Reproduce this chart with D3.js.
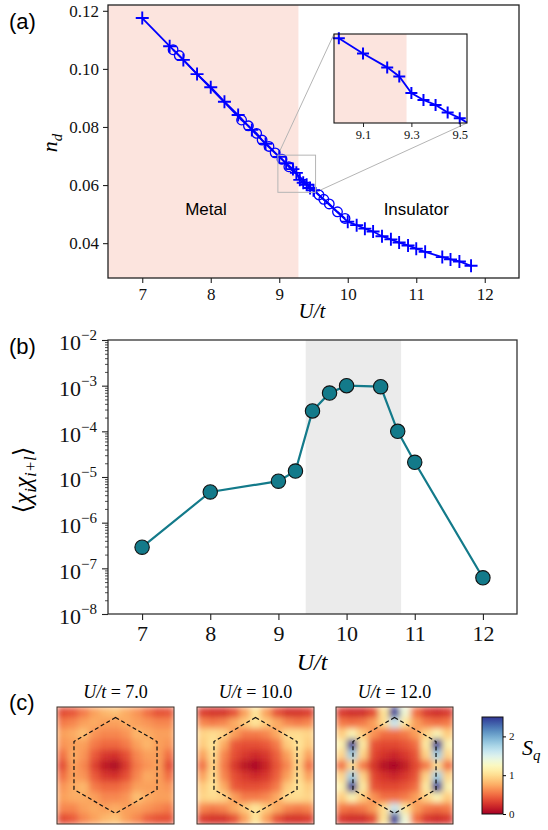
<!DOCTYPE html>
<html>
<head>
<meta charset="utf-8">
<script src="https://cdn.jsdelivr.net/npm/d3@7"></script>
<style>
  body { margin: 0; background: #fff; }
  svg { display: block; }
  .serif { font-family: "Liberation Serif", "DejaVu Serif", serif; }
  .sans { font-family: "Liberation Sans", Arial, sans-serif; }
</style>
</head>
<body>
<svg id="fig" width="548" height="830"></svg>
<script>
// ---- panel (a): n_d vs U/t ----
const plusU  = [7.0, 7.4, 7.6, 7.8, 8.0, 8.2, 8.4, 8.6, 8.8, 9.0, 9.1, 9.2, 9.25, 9.3, 9.35, 9.4, 9.45, 9.5,
                10.0, 10.13, 10.25, 10.37, 10.5, 10.63, 10.75, 10.88, 11.0, 11.13, 11.38, 11.5, 11.63, 11.8]
const plusN  = [0.1175, 0.1078, 0.1031, 0.0982, 0.0937, 0.0887, 0.0841, 0.0790, 0.0742, 0.0697, 0.0675, 0.0655, 0.0642, 0.0618, 0.0608, 0.0601, 0.0590, 0.0582,
                0.0474, 0.0462, 0.0450, 0.0440, 0.0424, 0.0413, 0.0402, 0.0392, 0.0381, 0.0370, 0.0352, 0.0344, 0.0337, 0.0322]
const circU  = [7.45, 7.54, 8.45, 8.55, 8.67, 8.75, 8.85, 8.94, 9.04, 9.14, 9.58, 9.65, 9.73, 9.85, 9.96]
const circN  = [0.1066, 0.1046, 0.0824, 0.0804, 0.0778, 0.0755, 0.0733, 0.0711, 0.0689, 0.0663, 0.0566, 0.0551, 0.0535, 0.0508, 0.0485]
const metalEdge = 9.28
const insetX = [8.98, 9.53]
const insetY = [0.0575, 0.0703]

// ---- panel (b): correlation vs U/t ----
const corrU = [7, 8, 9, 9.25, 9.5, 9.75, 10, 10.5, 10.75, 11, 12]
const corrV = [2.9e-7, 4.7e-6, 8.1e-6, 1.35e-5, 2.8e-4, 6.9e-4, 1.0e-3, 9.5e-4, 1.0e-4, 2.1e-5, 6.2e-8]
const bandB = [9.4, 10.8]

// ---- panel (c): S_q maps (11x11, rows top to bottom) ----
const mapTitles = ["7.0", "10.0", "12.0"]
const sq7 = [
  [0.35,0.40,0.55,0.70,0.80,0.85,0.75,0.65,0.50,0.38,0.40],
  [0.55,0.60,0.70,0.75,0.70,0.70,0.75,0.70,0.65,0.60,0.60],
  [0.70,0.75,0.85,0.65,0.60,0.60,0.65,0.80,0.75,0.70,0.70],
  [0.65,0.70,0.70,0.55,0.48,0.48,0.55,0.70,0.80,0.70,0.65],
  [0.50,0.75,0.65,0.42,0.28,0.25,0.38,0.60,0.70,0.70,0.50],
  [0.35,0.70,0.60,0.32,0.12,0.04,0.28,0.55,0.65,0.70,0.35],
  [0.50,0.70,0.65,0.42,0.28,0.25,0.38,0.60,0.75,0.70,0.50],
  [0.65,0.75,0.80,0.55,0.48,0.48,0.55,0.70,0.70,0.70,0.65],
  [0.70,0.75,0.75,0.70,0.60,0.60,0.65,0.85,0.75,0.70,0.70],
  [0.60,0.60,0.70,0.75,0.70,0.75,0.70,0.70,0.65,0.60,0.55],
  [0.35,0.42,0.60,0.70,0.80,0.85,0.70,0.60,0.45,0.38,0.38]]
const sq10 = [
  [0.30,0.25,0.25,0.38,0.70,1.05,0.70,0.38,0.25,0.25,0.30],
  [0.60,0.55,0.60,0.75,0.90,1.05,0.90,0.75,0.60,0.55,0.60],
  [0.95,1.00,0.95,0.70,0.55,0.55,0.60,0.75,1.00,1.00,0.95],
  [0.90,1.05,0.75,0.42,0.38,0.38,0.42,0.55,0.90,1.05,0.90],
  [0.70,1.00,0.60,0.38,0.28,0.22,0.28,0.45,0.70,1.00,0.70],
  [0.50,0.95,0.55,0.28,0.10,0.03,0.18,0.40,0.60,0.95,0.50],
  [0.70,1.00,0.60,0.38,0.28,0.22,0.28,0.45,0.70,1.00,0.70],
  [0.90,1.05,0.75,0.42,0.38,0.38,0.42,0.55,0.90,1.05,0.90],
  [0.95,1.00,0.95,0.70,0.55,0.55,0.60,0.75,1.00,1.00,0.95],
  [0.60,0.55,0.60,0.75,0.90,1.05,0.90,0.75,0.60,0.55,0.60],
  [0.30,0.25,0.25,0.38,0.70,1.05,0.70,0.38,0.25,0.25,0.30]]
const sq12 = [
  [0.28,0.22,0.22,0.35,1.05,2.50,1.35,0.50,0.28,0.22,0.28],
  [0.55,0.50,0.55,0.70,1.00,1.60,1.05,0.70,0.55,0.50,0.55],
  [0.90,1.20,0.90,0.65,0.50,0.50,0.55,0.70,0.95,1.20,0.90],
  [1.15,2.50,1.10,0.40,0.35,0.35,0.40,0.50,1.10,2.50,1.15],
  [0.95,1.80,0.95,0.35,0.25,0.20,0.28,0.40,0.95,1.80,0.95],
  [0.50,1.00,0.55,0.26,0.08,0.02,0.14,0.35,0.55,1.00,0.50],
  [0.95,1.80,0.95,0.35,0.25,0.20,0.28,0.40,0.95,1.80,0.95],
  [1.15,2.50,1.10,0.40,0.35,0.35,0.40,0.50,1.10,2.50,1.15],
  [0.90,1.20,0.90,0.65,0.50,0.50,0.55,0.70,0.95,1.20,0.90],
  [0.55,0.50,0.55,0.70,1.00,1.60,1.05,0.70,0.55,0.50,0.55],
  [0.28,0.22,0.22,0.35,1.05,2.50,1.35,0.50,0.28,0.22,0.28]]
const hexQ = [[0,1],[0.866,0.5],[0.866,-0.5],[0,-1],[-0.866,-0.5],[-0.866,0.5]]
const cbTicks = [0, 1, 2]

const svg = d3.select("#fig")
const blue = "#0000ff"
const teal = "#137a8a"
const defs = svg.append("defs")

function plusPath(s){ return `M${-s},0H${s}M0,${-s}V${s}` }

// ================= (a) =================
const xA = d3.scaleLinear([6.5, 12.5], [108, 519])
const yA = d3.scaleLinear([0.028, 0.122], [278, 5])
const gA = svg.append("g")

gA.append("rect").attr("x", xA(6.5)).attr("y", 5)
  .attr("width", xA(metalEdge) - xA(6.5)).attr("height", 273).attr("fill", "#fce4de")

gA.append("text").attr("class","sans").attr("x", xA(7.93)).attr("y", 215)
  .attr("text-anchor","middle").attr("font-size", 17).text("Metal")
gA.append("text").attr("class","sans").attr("x", xA(11.0)).attr("y", 215)
  .attr("text-anchor","middle").attr("font-size", 17).text("Insulator")

const plusPts = plusU.map((u,i)=>[u, plusN[i]])
const circPts = circU.map((u,i)=>[u, circN[i]])
const lineA = d3.line().x(d=>xA(d[0])).y(d=>yA(d[1]))

// inset zoom box and connectors
const zx0 = xA(insetX[0]), zx1 = xA(insetX[1]), zy0 = yA(insetY[1]), zy1 = yA(insetY[0])
const ix0 = 334, ix1 = 467, iy0 = 34, iy1 = 123
gA.append("line").attr("x1", zx0).attr("y1", zy0).attr("x2", ix0).attr("y2", iy0)
  .attr("stroke","#b5b5b5").attr("stroke-width",1)
gA.append("line").attr("x1", zx1).attr("y1", zy1).attr("x2", ix1).attr("y2", iy1)
  .attr("stroke","#b5b5b5").attr("stroke-width",1)

gA.append("path").datum(plusPts).attr("d", lineA)
  .attr("fill","none").attr("stroke", blue).attr("stroke-width", 1.8)
gA.append("path").datum(circPts).attr("d", lineA)
  .attr("fill","none").attr("stroke", blue).attr("stroke-width", 1.8)
gA.selectAll(".pp").data(plusPts).join("path").attr("class","pp")
  .attr("transform", d=>`translate(${xA(d[0])},${yA(d[1])})`)
  .attr("d", plusPath(6.5)).attr("stroke", blue).attr("stroke-width", 1.9)
gA.selectAll(".cc").data(circPts).join("circle").attr("class","cc")
  .attr("cx", d=>xA(d[0])).attr("cy", d=>yA(d[1])).attr("r", 4.8)
  .attr("fill","none").attr("stroke", blue).attr("stroke-width", 1.3)

gA.append("rect").attr("x", zx0).attr("y", zy0).attr("width", zx1-zx0).attr("height", zy1-zy0)
  .attr("fill","none").attr("stroke","#b5b5b5").attr("stroke-width",1)

gA.append("rect").attr("x",108).attr("y",5).attr("width",411).attr("height",273)
  .attr("fill","none").attr("stroke","#222").attr("stroke-width",1.3)

const axA = gA.append("g").attr("class","serif").attr("transform","translate(0,278)")
  .call(d3.axisBottom(xA).tickValues([7,8,9,10,11,12]).tickFormat(d3.format("d")).tickSize(5).tickPadding(5))
const ayA = gA.append("g").attr("class","serif").attr("transform","translate(108,0)")
  .call(d3.axisLeft(yA).tickValues([0.04,0.06,0.08,0.10,0.12]).tickFormat(d3.format(".2f")).tickSize(5).tickPadding(4))
;[axA, ayA].forEach(a=>{
  a.select(".domain").remove()
  a.selectAll("text").attr("font-size", 17).attr("fill","#111")
  a.selectAll("line").attr("stroke","#222").attr("stroke-width",1.1)
})

gA.append("text").attr("class","serif").attr("x", 312).attr("y", 318)
  .attr("text-anchor","middle").attr("font-size", 21).attr("font-style","italic").text("U/t")
const nd = gA.append("text").attr("class","serif").attr("transform","translate(57,143) rotate(-90)")
  .attr("text-anchor","middle").attr("font-size", 22).attr("font-style","italic")
nd.append("tspan").text("n")
nd.append("tspan").attr("font-size",15).attr("dy",5).text("d")

// inset
const xI = d3.scaleLinear(insetX, [ix0, ix1])
const yI = d3.scaleLinear(insetY, [iy1, iy0])
defs.append("clipPath").attr("id","clipI").append("rect")
  .attr("x",ix0).attr("y",iy0).attr("width",ix1-ix0).attr("height",iy1-iy0)
const gI = svg.append("g")
gI.append("rect").attr("x",ix0).attr("y",iy0).attr("width",ix1-ix0).attr("height",iy1-iy0).attr("fill","#fff")
gI.append("rect").attr("x",ix0).attr("y",iy0).attr("width",xI(metalEdge)-ix0).attr("height",iy1-iy0).attr("fill","#fce4de")
const inPts = plusPts.filter(d=>d[0]>=insetX[0]-0.1 && d[0]<=insetX[1]+0.6)
const gIc = gI.append("g").attr("clip-path","url(#clipI)")
gIc.append("path").datum(inPts).attr("d", d3.line().x(d=>xI(d[0])).y(d=>yI(d[1])))
  .attr("fill","none").attr("stroke",blue).attr("stroke-width",1.8)
gI.selectAll(".ip").data(inPts.filter(d=>d[0]<=insetX[1])).join("path").attr("class","ip")
  .attr("transform", d=>`translate(${xI(d[0])},${yI(d[1])})`)
  .attr("d", plusPath(6)).attr("stroke",blue).attr("stroke-width",2)
gI.append("rect").attr("x",ix0).attr("y",iy0).attr("width",ix1-ix0).attr("height",iy1-iy0)
  .attr("fill","none").attr("stroke","#111").attr("stroke-width",1.1)
const axI = gI.append("g").attr("class","serif").attr("transform",`translate(0,${iy1})`)
  .call(d3.axisBottom(xI).tickValues([9.1,9.3,9.5]).tickFormat(d3.format(".1f")).tickSize(4).tickPadding(3))
axI.select(".domain").remove()
axI.selectAll("text").attr("font-size",12.5).attr("fill","#111")
axI.selectAll("line").attr("stroke","#222")

svg.append("text").attr("class","sans").attr("x",9).attr("y",29).attr("font-size",22).text("(a)")

// ================= (b) =================
const xB = d3.scaleLinear([6.5, 12.5], [108, 517])
const yB = d3.scaleLog([1e-8, 1e-2], [614, 340])
const gB = svg.append("g")
gB.append("rect").attr("x", xB(bandB[0])).attr("y", 340)
  .attr("width", xB(bandB[1]) - xB(bandB[0])).attr("height", 274).attr("fill", "#ebebeb")
const corrPts = corrU.map((u,i)=>[u, corrV[i]])
gB.append("path").datum(corrPts).attr("d", d3.line().x(d=>xB(d[0])).y(d=>yB(d[1])))
  .attr("fill","none").attr("stroke", teal).attr("stroke-width", 2.2)
gB.selectAll(".cp").data(corrPts).join("circle").attr("class","cp")
  .attr("cx", d=>xB(d[0])).attr("cy", d=>yB(d[1])).attr("r", 7.2)
  .attr("fill", teal).attr("stroke","#111").attr("stroke-width",1.1)
gB.append("rect").attr("x",108).attr("y",340).attr("width",409).attr("height",274)
  .attr("fill","none").attr("stroke","#333").attr("stroke-width",1.3)

const majors = d3.range(-8, -1).map(e=>Math.pow(10, e))
const minors = []
d3.range(-8, -2).forEach(e=>{ for (let k=2;k<10;k++) minors.push(k*Math.pow(10,e)) })
const ayBm = gB.append("g").attr("transform","translate(108,0)")
  .call(d3.axisLeft(yB).tickValues(minors).tickFormat("").tickSize(3))
ayBm.select(".domain").remove()
ayBm.selectAll("line").attr("stroke","#222").attr("stroke-width",0.8)
const ayB = gB.append("g").attr("class","serif").attr("transform","translate(108,0)")
  .call(d3.axisLeft(yB).tickValues(majors).tickSize(6).tickPadding(5))
ayB.select(".domain").remove()
ayB.selectAll("line").attr("stroke","#222").attr("stroke-width",1.1)
ayB.selectAll(".tick text").attr("font-size",22).attr("fill","#111").attr("dy","0.45em")
  .each(function(d){
    const e = Math.round(Math.log10(d))
    const t = d3.select(this).text(null)
    t.append("tspan").text("10")
    t.append("tspan").attr("font-size",15).attr("dy",-10).text("\u2212" + (-e))
  })
const axB = gB.append("g").attr("class","serif").attr("transform","translate(0,614)")
  .call(d3.axisBottom(xB).tickValues([7,8,9,10,11,12]).tickFormat(d3.format("d")).tickSize(6).tickPadding(5))
axB.select(".domain").remove()
axB.selectAll("text").attr("font-size",22).attr("fill","#111")
axB.selectAll("line").attr("stroke","#222").attr("stroke-width",1.1)

gB.append("text").attr("class","serif").attr("x",312).attr("y",670)
  .attr("text-anchor","middle").attr("font-size",24).attr("font-style","italic").text("U/t")
const chi = gB.append("text").attr("class","serif").attr("transform","translate(31,480) rotate(-90)")
  .attr("text-anchor","middle").attr("font-size",25).attr("font-style","italic")
chi.append("tspan").attr("font-style","normal").text("\u27E8")
chi.append("tspan").text("\u03C7")
chi.append("tspan").attr("font-size",17).attr("dy",5).text("i")
chi.append("tspan").attr("dy",-5).text("\u03C7")
chi.append("tspan").attr("font-size",17).attr("dy",5).text("i+l")
chi.append("tspan").attr("font-style","normal").attr("dy",-5).text("\u27E9")

svg.append("text").attr("class","sans").attr("x",9).attr("y",354).attr("font-size",22).text("(b)")

// ================= (c) =================
const color = d3.scaleSequential(d3.interpolateRdYlBu).domain([0, 2.5])
const maps = [sq7, sq10, sq12]
const boxX = [57, 197, 336], boxY = 707, boxS = 117
const flt = defs.append("filter").attr("id","smooth")
  .attr("x",0).attr("y",0).attr("width",1).attr("height",1)
flt.append("feGaussianBlur").attr("stdDeviation",3.2).attr("edgeMode","duplicate")

maps.forEach((m, k)=>{
  const x0 = boxX[k]
  const cx = d3.scaleBand().domain(d3.range(11)).range([x0, x0+boxS])
  const cy = d3.scaleBand().domain(d3.range(11)).range([boxY, boxY+boxS])
  defs.append("clipPath").attr("id","clipM"+k).append("rect")
    .attr("x",x0).attr("y",boxY).attr("width",boxS).attr("height",boxS)
  const g = svg.append("g").attr("clip-path",`url(#clipM${k})`)
  const cells = []
  m.forEach((row,r)=>row.forEach((v,c)=>cells.push({r,c,v})))
  g.append("g").attr("filter","url(#smooth)")
    .selectAll("rect").data(cells).join("rect")
    .attr("x", d=>cx(d.c)).attr("y", d=>cy(d.r))
    .attr("width", cx.bandwidth()+0.6).attr("height", cy.bandwidth()+0.6)
    .attr("fill", d=>color(d.v))
  const q = d3.scaleLinear([-1.22, 1.22], [x0, x0+boxS])
  const qy = d3.scaleLinear([-1.22, 1.22], [boxY+boxS, boxY])
  svg.append("path").datum(hexQ)
    .attr("d", d3.line().x(d=>q(d[0])).y(d=>qy(d[1])).curve(d3.curveLinearClosed))
    .attr("fill","none").attr("stroke","#111").attr("stroke-width",1.2).attr("stroke-dasharray","4,2.6")
  svg.append("rect").attr("x",x0).attr("y",boxY).attr("width",boxS).attr("height",boxS)
    .attr("fill","none").attr("stroke","#3a2a20").attr("stroke-width",1)
  const t = svg.append("text").attr("class","serif").attr("x", x0+boxS/2).attr("y", 698)
    .attr("text-anchor","middle").attr("font-size",18)
  t.append("tspan").attr("font-style","italic").text("U/t")
  t.append("tspan").text(" = " + mapTitles[k])
})

// colorbar
const cbX = 482, cbW = 21, cbY0 = 717, cbY1 = 814
const cbScale = d3.scaleLinear([0, 2.5], [cbY1, cbY0])
const grad = defs.append("linearGradient").attr("id","cbg").attr("x1",0).attr("y1",1).attr("x2",0).attr("y2",0)
d3.range(0, 1.0001, 0.05).forEach(t=>{
  grad.append("stop").attr("offset", t).attr("stop-color", color(t*2.5))
})
svg.append("rect").attr("x",cbX).attr("y",cbY0).attr("width",cbW).attr("height",cbY1-cbY0)
  .attr("fill","url(#cbg)").attr("stroke","#111").attr("stroke-width",1)
const cbAx = svg.append("g").attr("class","serif").attr("transform",`translate(${cbX+cbW},0)`)
  .call(d3.axisRight(cbScale).tickValues(cbTicks).tickFormat(d3.format("d")).tickSize(3).tickPadding(3))
cbAx.select(".domain").remove()
cbAx.selectAll("text").attr("font-size",11).attr("fill","#111")
const sq = svg.append("text").attr("class","serif").attr("x",522).attr("y",755)
  .attr("font-size",22).attr("font-style","italic")
sq.append("tspan").text("S")
sq.append("tspan").attr("font-size",15).attr("dy",5).text("q")

svg.append("text").attr("class","sans").attr("x",9).attr("y",710).attr("font-size",22).text("(c)")
</script>
</body>
</html>
